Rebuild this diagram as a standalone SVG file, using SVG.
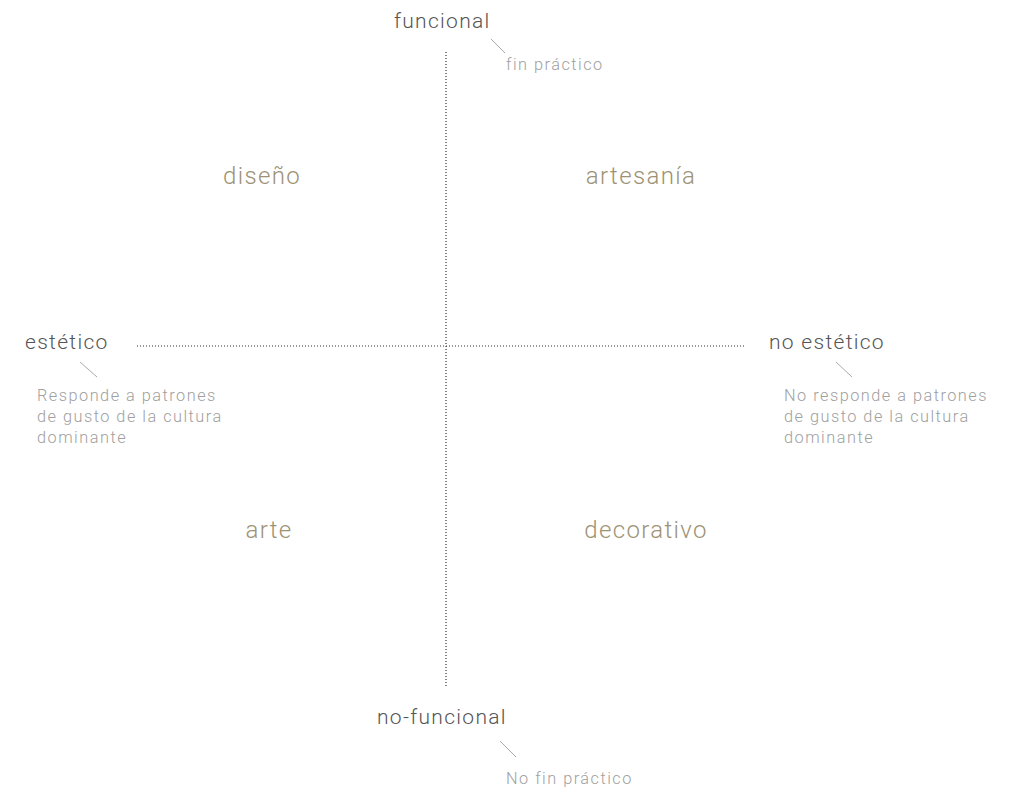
<svg xmlns="http://www.w3.org/2000/svg" width="1018" height="790" viewBox="0 0 1018 790">
<style>
.axis{font-family:Roboto,"Liberation Sans",sans-serif;font-weight:300;font-size:21px;letter-spacing:1.3px;fill:#555}
.sub{font-family:Roboto,"Liberation Sans",sans-serif;font-weight:300;font-size:16.3px;letter-spacing:1.5px;fill:#a0a0a0}
.quad{font-family:Roboto,"Liberation Sans",sans-serif;font-weight:300;font-size:24px;letter-spacing:1.35px;fill:#9d9275;text-anchor:middle}
.dot{stroke:#333;stroke-width:1.2;stroke-dasharray:1 2;fill:none}
.lead{stroke:#aaa;stroke-width:1;fill:none}
</style>
<rect width="1018" height="790" fill="#fff"/>
<g id="connectors">
<line class="dot" x1="446" y1="52" x2="446" y2="686"/>
<line class="dot" x1="137" y1="346" x2="745" y2="346"/>
<line class="lead" x1="491" y1="39" x2="505" y2="53"/>
<line class="lead" x1="80" y1="362" x2="97" y2="377"/>
<line class="lead" x1="836" y1="362" x2="852" y2="377"/>
<line class="lead" x1="500" y1="741" x2="516" y2="757"/>
</g>
<g id="funcional"><text class="axis" x="394" y="28">funcional</text><text class="sub" x="506" y="70">fin práctico</text></g>
<g id="estetico"><text class="axis" x="25" y="349">estético</text>
<text class="sub" x="37" y="401">Responde a patrones</text><text class="sub" x="37" y="422">de gusto de la cultura</text><text class="sub" x="37" y="443">dominante</text></g>
<g id="no-estetico"><text class="axis" x="769" y="349">no estético</text>
<text class="sub" x="784" y="401">No responde a patrones</text><text class="sub" x="784" y="422">de gusto de la cultura</text><text class="sub" x="784" y="443">dominante</text></g>
<g id="no-funcional"><text class="axis" x="377" y="724">no-funcional</text><text class="sub" x="506" y="784">No fin práctico</text></g>
<g id="diseno"><text class="quad" x="262" y="184">diseño</text></g>
<g id="artesania"><text class="quad" x="641" y="184">artesanía</text></g>
<g id="arte"><text class="quad" x="269" y="538">arte</text></g>
<g id="decorativo"><text class="quad" x="646" y="538">decorativo</text></g>
</svg>
